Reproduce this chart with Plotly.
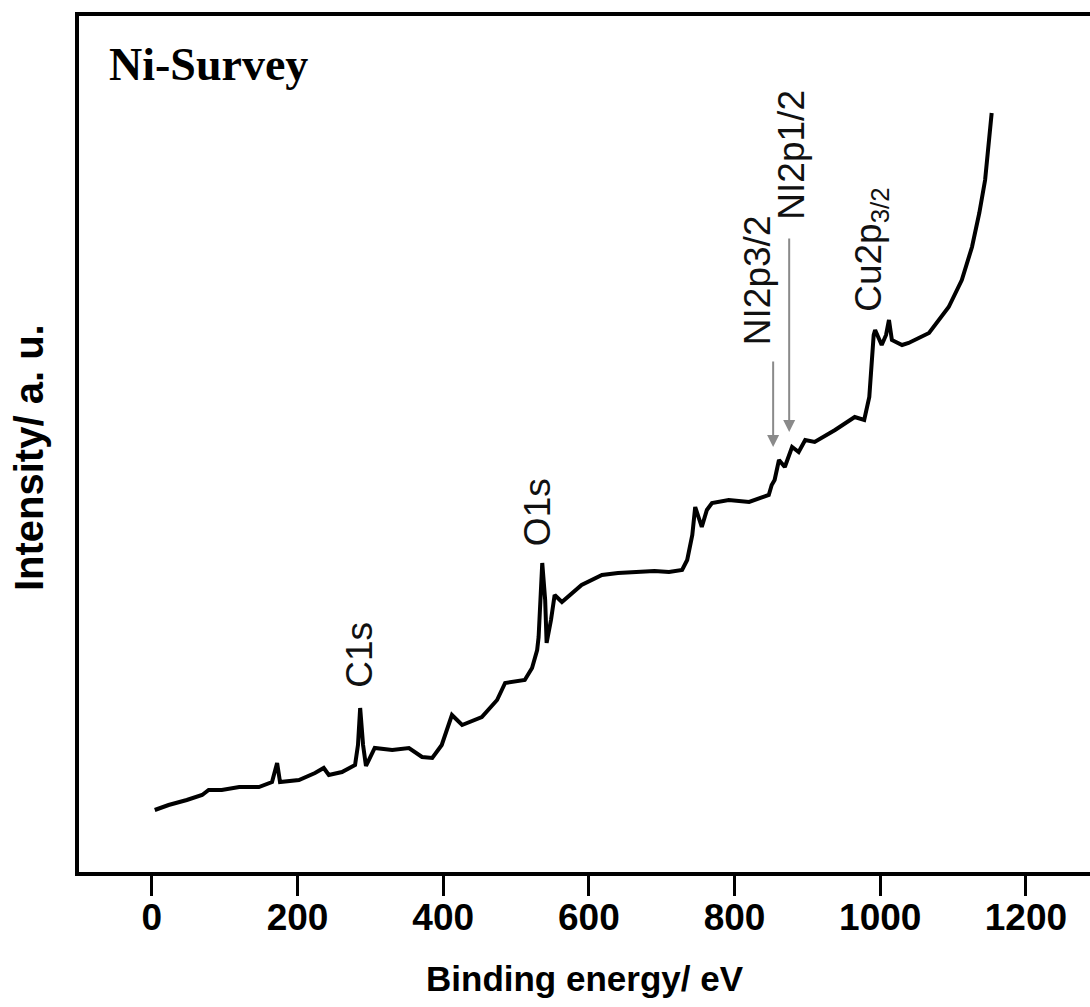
import plotly.graph_objects as go

# Binding energy (eV) and intensity (a.u.)
energy = [4, 23, 48, 69, 78, 96, 120, 147, 165, 172, 176, 202, 224, 236, 243, 261,
          279, 283, 286, 290, 294, 298, 306, 330, 353, 371, 385, 398, 412, 426, 453,
          474, 485, 512, 522, 529, 531, 536, 540, 542, 548, 553, 563, 590, 618, 640,
          663, 690, 710, 728, 735, 742, 746, 751, 755, 762, 769, 792, 820, 847, 851,
          855, 861, 869, 879, 888, 897, 910, 938, 965, 978, 985, 989, 991, 993, 998,
          1002, 1008, 1012, 1016, 1030, 1039, 1067, 1094, 1112, 1126, 1136, 1144,
          1149, 1153]
intensity = [62, 67, 72, 77, 82, 82, 85, 85, 90, 109, 90, 92, 99, 104, 97, 100,
             107, 127, 164, 127, 106, 112, 124, 122, 124, 115, 114, 127, 157, 147, 155,
             172, 189, 192, 204, 222, 235, 309, 272, 229, 252, 277, 270, 287, 297, 299,
             300, 301, 300, 302, 312, 337, 365, 352, 345, 362, 369, 372, 370, 377, 387,
             392, 412, 405, 425, 420, 432, 430, 442, 455, 452, 475, 512, 537, 542, 534,
             527, 537, 552, 532, 527, 529, 539, 565, 592, 625, 659, 692, 725, 759]

x_ticks = [0, 200, 400, 600, 800, 1000, 1200]

# Peak labels: text, energy, intensity (label centre)
peak_labels = ["C1s", "O1s", "NI2p3/2", "NI2p1/2", "Cu2p<sub>3/2</sub>"]
peak_label_x = [284, 529, 831, 877, 987]
peak_label_y = [217, 360, 592, 717, 622]

# Arrows: energy, tail intensity, tip intensity
arrow_x = [853, 875]
arrow_tail = [512, 635]
arrow_tip = [425, 440]

fig = go.Figure()
fig.add_trace(go.Scatter(x=energy, y=intensity, mode="lines",
                         line=dict(color="black", width=4), hoverinfo="skip",
                         showlegend=False))

for t, xv, yv in zip(peak_labels, peak_label_x, peak_label_y):
    fig.add_annotation(x=xv, y=yv, xref="x", yref="y", text=t, textangle=-90,
                       showarrow=False, xanchor="center", yanchor="middle",
                       font=dict(family="Liberation Sans, Arial, sans-serif",
                                 size=37, color="#111111"))

for xv, yt, yh in zip(arrow_x, arrow_tail, arrow_tip):
    fig.add_annotation(x=xv, y=yh, ax=xv, ay=yt, xref="x", yref="y",
                       axref="x", ayref="y", text="", showarrow=True,
                       arrowhead=2, arrowsize=1.2, arrowwidth=2,
                       arrowcolor="#8a8a8a")

fig.add_annotation(x=0.028, y=0.943, xref="paper", yref="paper", text="<b>Ni-Survey</b>",
                   showarrow=False, xanchor="left", yanchor="middle",
                   font=dict(family="Liberation Serif, Times New Roman, serif",
                             size=46, color="black"))

# y-axis title placed as annotation to match the reference position
fig.add_annotation(x=0, y=0.4836, xref="paper", yref="paper", xshift=-50,
                   text="<b>Intensity/ a. u.</b>", textangle=-90, showarrow=False,
                   xanchor="center", yanchor="middle",
                   font=dict(family="Liberation Sans, Arial, sans-serif",
                             size=40, color="black"))

tick_font = dict(family="Liberation Sans, Arial, sans-serif",
                 size=37, color="black", weight="bold")
title_font = dict(family="Liberation Sans, Arial, sans-serif",
                  size=35, color="black", weight="bold")

fig.update_layout(
    width=1090, height=1007,
    margin=dict(l=79, r=0, t=16, b=135),
    paper_bgcolor="white", plot_bgcolor="white",
    xaxis=dict(range=[-100, 1288], tickvals=x_ticks, ticktext=[str(v) for v in x_ticks],
               showgrid=False, zeroline=False, showline=True, linewidth=4,
               linecolor="black", mirror=True, ticks="outside", ticklen=20,
               tickwidth=3, tickcolor="black", tickfont=tick_font,
               ticklabelstandoff=-10,
               title=dict(text="Binding energy/ eV", font=title_font, standoff=30)),
    yaxis=dict(range=[0, 856], showgrid=False, zeroline=False, showline=True,
               linewidth=4, linecolor="black", showticklabels=False, ticks=""),
)

fig.write_html("out.html", config={"displayModeBar": False},
               post_script="document.body.style.margin='0';document.body.style.overflow='hidden';")
